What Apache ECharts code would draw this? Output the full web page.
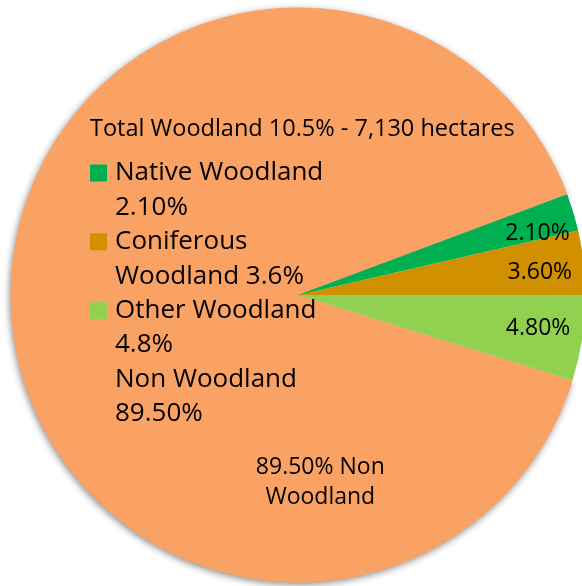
<!DOCTYPE html>
<html><head><meta charset="utf-8">
<script src="https://cdn.jsdelivr.net/npm/echarts@6/dist/echarts.min.js"></script>
<style>html,body{margin:0;padding:0;background:#fff}#c{width:582px;height:586px}</style>
</head><body><div id="c"></div>
<script>
// ---- data ----
const categories = ['Native Woodland', 'Coniferous Woodland', 'Other Woodland', 'Non Woodland'];
const values = [2.1, 3.6, 4.8, 89.5];
const sliceLabels = ['2.10%', '3.60%', '4.80%', '89.50% Non\nWoodland'];
const legendLabels = ['Native Woodland\n2.10%', 'Coniferous\nWoodland 3.6%', 'Other Woodland\n4.8%', 'Non Woodland\n89.50%'];
const titleText = 'Total Woodland 10.5% - 7,130 hectares';

// ---- style ----
const colors = ['#00B050', '#D09000', '#92D050', '#FAA264'];
const labelShift = [[99, -19], [96, -6], [95, 11], [169, 183]];
const FONT = 'Open Sans';

const total = values.reduce((a, b) => a + b, 0);
const startAngle = (values[0] + values[1]) / total * 360;
const order = [3, 2, 1, 0];
const seriesData = order.map(i => ({
  name: categories[i],
  value: values[i],
  itemStyle: Object.assign({ color: colors[i], borderWidth: 0 },
    i === 3 ? { shadowBlur: 7, shadowColor: 'rgba(0,0,0,0.45)', shadowOffsetX: -1, shadowOffsetY: 2 } : {})
}));

const chart = echarts.init(document.getElementById('c'), null, { renderer: 'canvas' });
chart.setOption({
  animation: false,
  backgroundColor: '#fff',
  title: {
    text: titleText, left: 90, top: 115, padding: 0,
    textStyle: { fontFamily: FONT, fontSize: 23.5, lineHeight: 28, fontWeight: 'normal', color: '#000' }
  },
  legend: categories.map((c, i) => ({
    data: [{ name: c, icon: 'rect' }],
    left: 90, top: 121.4 + i * 68.8, padding: 0,
    itemWidth: 17, itemHeight: 17, selectedMode: false,
    itemStyle: { borderWidth: 0, shadowBlur: 0 },
    formatter: () => '\n' + legendLabels[i],
    textStyle: { fontFamily: FONT, fontSize: 26, lineHeight: 34.4, color: '#000', padding: [0, 0, 0, 3] }
  })),
  series: [{
    type: 'pie',
    center: [298, 295],
    radius: [0, 287.5],
    clockwise: false,
    startAngle: startAngle,
    avoidLabelOverlap: false,
    silent: true,
    label: {
      show: true, position: 'inside',
      formatter: p => sliceLabels[order[p.dataIndex]],
      fontFamily: FONT, fontSize: 23, lineHeight: 30, color: '#000',
      textBorderWidth: 0, fontWeight: 'normal'
    },
    labelLine: { show: false },
    labelLayout: p => {
      const s = labelShift[order[p.dataIndex]];
      return { dx: s[0], dy: s[1] };
    },
    emphasis: { disabled: true },
    data: seriesData
  }]
});
</script>
</body></html>
